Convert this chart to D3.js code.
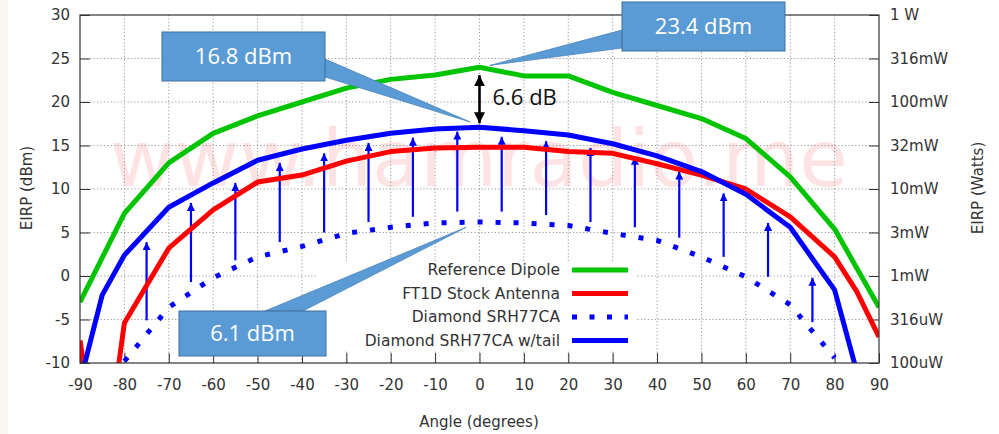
<!DOCTYPE html>
<html>
<head>
<meta charset="utf-8">
<script src="https://cdn.jsdelivr.net/npm/d3@7/dist/d3.min.js"></script>
<style>
  html, body { margin:0; padding:0; background:#fff; }
  svg { display:block; font-family:"DejaVu Sans", sans-serif; }
</style>
</head>
<body>
<svg id="chart" width="999" height="434"></svg>
<script>
// EIRP vs angle, four antennas.
const X_TICKS = d3.range(-90, 91, 10);
const Y_TICKS = d3.range(-10, 31, 5);
const WATT_LABELS = ["100uW","316uW","1mW","3mW","10mW","32mW","100mW","316mW","1 W"]; // -10..30 dBm

const DIPOLE_ANG = [-90,-80,-70,-60,-50,-40,-30,-20,-10,0,10,20,30,40,50,60,70,80,90];
const DIPOLE_VAL = [-3.0,7.2,13.0,16.4,18.4,20.0,21.6,22.6,23.1,24.0,23.0,23.0,21.1,19.6,18.1,15.8,11.4,5.4,-3.6];

const FT1D_ANG = [-90,-85,-80,-70,-60,-50,-40,-30,-20,-10,0,10,20,30,40,50,60,70,80,85,90];
const FT1D_VAL = [-7.4,-24,-5.4,3.2,7.6,10.8,11.6,13.2,14.3,14.7,14.8,14.8,14.3,14.1,12.9,11.6,10.0,6.8,2.2,-1.8,-7.0];

const SRH_ANG = [-80,-70,-60,-50,-40,-30,-20,-10,0,10,20,30,40,50,60,70,80];
const SRH_VAL = [-9.8,-3.6,-0.2,2.2,3.4,4.9,5.6,6.1,6.2,6.1,5.8,4.9,4.1,2.2,-0.1,-3.3,-9.4];

const TAIL_ANG = [-90,-85,-80,-70,-60,-50,-40,-30,-20,-10,0,10,20,30,40,50,60,70,80,85,90];
const TAIL_VAL = [-12.2,-2.2,2.4,7.9,10.7,13.3,14.6,15.6,16.4,16.9,17.1,16.7,16.2,15.2,13.8,12.0,9.4,5.6,-1.6,-11,-20];

// improvement arrows: dotted curve -> w/tail curve
const ARROW_AT   = [-75,-65,-55,-45,-35,-25,-15,-5,5,15,25,35,45,55,65,75];
const ARROW_FROM = [-5.1,-0.7,1.8,3.9,5.0,6.2,6.8,7.4,7.4,7.0,6.2,5.6,4.4,2.2,-0.1,-5.3];
const ARROW_TO   = [3.9,8.4,10.7,13.0,14.1,15.3,15.9,16.6,16.0,15.5,14.7,13.7,12.0,9.5,6.1,-0.2];

const SERIES = [
  {name:"Reference Dipole",        ang:DIPOLE_ANG, val:DIPOLE_VAL, color:"#00c400", dash:null},
  {name:"FT1D Stock Antenna",      ang:FT1D_ANG,   val:FT1D_VAL,   color:"#ff0000", dash:null},
  {name:"Diamond SRH77CA",         ang:SRH_ANG,    val:SRH_VAL,    color:"#0000ff", dash:"5 13"},
  {name:"Diamond SRH77CA w/tail",  ang:TAIL_ANG,   val:TAIL_VAL,   color:"#0000ff", dash:null}
];

// callouts: label, tip in data units [angle, dBm], box in px
const CALLOUTS = [
  {text:"16.8 dBm", tip:[-2.1, 17.7], box:[162, 32, 163, 49], base:[[325,59],[325,77]]},
  {text:"23.4 dBm", tip:[2.3, 24.2],  box:[622, 2, 163, 49],  base:[[622,30],[622,48]]},
  {text:"6.1 dBm",  tip:[-3.0, 5.6],  box:[179, 311, 147, 45], base:[[265,311],[303,311]]}
];
const GAP_LABEL = "6.6 dB";

const W = 999, H = 434;
const M = {left:80, right:120, top:15, bottom:71};
const svg = d3.select("#chart");

svg.append("rect").attr("width", W).attr("height", H).attr("fill", "#fff");
svg.append("rect").attr("width", 8).attr("height", H).attr("fill", "#f9f7ef");

const x = d3.scaleLinear().domain([-90, 90]).range([M.left, W - M.right]);
const y = d3.scaleLinear().domain([-10, 30]).range([H - M.bottom, M.top]);

const defs = svg.append("defs");
defs.append("clipPath").attr("id", "plot-clip").append("rect")
  .attr("x", M.left).attr("y", M.top)
  .attr("width", W - M.left - M.right).attr("height", H - M.top - M.bottom);
defs.append("marker").attr("id", "head-blue")
  .attr("viewBox", "0 0 10 10").attr("refX", 10).attr("refY", 5)
  .attr("markerWidth", 8).attr("markerHeight", 8).attr("markerUnits", "userSpaceOnUse")
  .attr("orient", "auto")
  .append("path").attr("d", "M0,0 L10,5 L0,10 z").attr("fill", "#0000ff");
defs.append("marker").attr("id", "head-black")
  .attr("viewBox", "0 0 10 10").attr("refX", 10).attr("refY", 5)
  .attr("markerWidth", 11).attr("markerHeight", 11).attr("markerUnits", "userSpaceOnUse")
  .attr("orient", "auto-start-reverse")
  .append("path").attr("d", "M0,0 L10,5 L0,10 z").attr("fill", "#000");

// watermark
svg.append("text").attr("x", 110).attr("y", 186)
  .attr("font-size", 79).attr("fill", "#fde3e3")
  .text("www.hamradio.me");

// grid
const grid = svg.append("g").attr("stroke", "#999").attr("stroke-width", 1)
  .attr("stroke-dasharray", "1.2 2.2");
grid.selectAll("line.v").data(X_TICKS.slice(1, -1)).join("line").attr("class", "v")
  .attr("x1", d => x(d)).attr("x2", d => x(d))
  .attr("y1", y(30)).attr("y2", y(-10));
grid.selectAll("line.h").data(Y_TICKS.slice(1, -1)).join("line").attr("class", "h")
  .attr("x1", x(-90)).attr("x2", x(90))
  .attr("y1", d => y(d)).attr("y2", d => y(d));

// axes (ticks inward, gnuplot style; plain hyphen minus)
const TK = 10;
const fmt = d => String(d);
const axL = svg.append("g").attr("transform", `translate(${M.left},0)`)
  .call(d3.axisLeft(y).tickValues(Y_TICKS).tickSize(-TK).tickPadding(10).tickFormat(fmt));
const axR = svg.append("g").attr("transform", `translate(${W - M.right},0)`)
  .call(d3.axisRight(y).tickValues(Y_TICKS).tickSize(-TK).tickPadding(11)
    .tickFormat((d, i) => WATT_LABELS[i]));
const axB = svg.append("g").attr("transform", `translate(0,${H - M.bottom})`)
  .call(d3.axisBottom(x).tickValues(X_TICKS).tickSize(-TK).tickPadding(16).tickFormat(fmt));
[axL, axR, axB].forEach(g => {
  g.attr("font-family", "DejaVu Sans");
  g.select(".domain").remove();
  g.selectAll(".tick line").attr("stroke", "#333");
  g.selectAll("text").attr("font-size", 15).attr("fill", "#333");
});

// legend box (opaque)
const legend = svg.append("g");
legend.append("rect").attr("x", 318).attr("y", 262).attr("width", 318).attr("height", 88)
  .attr("fill", "#fff");

// arrows
svg.append("g").selectAll("line").data(ARROW_AT).join("line")
  .attr("x1", d => x(d)).attr("x2", d => x(d))
  .attr("y1", (d, i) => y(ARROW_FROM[i])).attr("y2", (d, i) => y(ARROW_TO[i]))
  .attr("stroke", "#0000ff").attr("stroke-width", 2.2)
  .attr("marker-end", "url(#head-blue)");

// curves
const plot = svg.append("g").attr("clip-path", "url(#plot-clip)");
const line = d3.line().x(d => x(d[0])).y(d => y(d[1]));
SERIES.forEach(s => {
  plot.append("path")
    .attr("d", line(s.ang.map((a, i) => [a, s.val[i]])))
    .attr("fill", "none").attr("stroke", s.color)
    .attr("stroke-width", 5)
    .attr("stroke-linejoin", "round")
    .attr("stroke-dasharray", s.dash);
});

// legend entries
const rows = legend.selectAll("g.row").data(SERIES).join("g").attr("class", "row")
  .attr("transform", (d, i) => `translate(0,${270 + i * 23.5})`);
rows.append("text").attr("x", 560).attr("dy", "0.35em").attr("text-anchor", "end")
  .attr("font-size", 15.5).attr("fill", "#333").text(d => d.name);
rows.append("line").attr("x1", 572).attr("x2", 628)
  .attr("stroke", d => d.color).attr("stroke-width", 5)
  .attr("stroke-dasharray", d => d.dash ? "5 12.5" : null);

// border
svg.append("rect").attr("x", M.left).attr("y", M.top)
  .attr("width", W - M.left - M.right).attr("height", H - M.top - M.bottom)
  .attr("fill", "none").attr("stroke", "#333").attr("stroke-width", 1.2);

// axis titles
svg.append("text").attr("transform", "translate(32,188) rotate(-90)")
  .attr("text-anchor", "middle").attr("font-size", 15).attr("fill", "#333").text("EIRP (dBm)");
svg.append("text").attr("transform", "translate(983,188) rotate(-90)")
  .attr("text-anchor", "middle").attr("font-size", 15).attr("fill", "#333").text("EIRP (Watts)");
svg.append("text").attr("x", 479).attr("y", 427)
  .attr("text-anchor", "middle").attr("font-size", 15).attr("fill", "#333").text("Angle (degrees)");

// 6.6 dB gap arrow between dipole peak and w/tail peak
const peakD = d3.max(DIPOLE_VAL), peakT = d3.max(TAIL_VAL);
svg.append("line")
  .attr("x1", x(0)).attr("x2", x(0))
  .attr("y1", y(peakD) + 8).attr("y2", y(peakT) - 4)
  .attr("stroke", "#000").attr("stroke-width", 2.6)
  .attr("marker-start", "url(#head-black)").attr("marker-end", "url(#head-black)");
svg.append("text").attr("x", x(0) + 13).attr("y", (y(peakD) + y(peakT)) / 2 + 8)
  .attr("font-family", "'Open Sans', sans-serif").attr("font-size", 22)
  .attr("fill", "#111").text(GAP_LABEL);

// callouts
const co = svg.append("g");
CALLOUTS.forEach(c => {
  const [bx, by, bw, bh] = c.box;
  const tip = [x(c.tip[0]), y(c.tip[1])];
  co.append("path")
    .attr("d", `M${c.base[0][0]},${c.base[0][1]} L${tip[0]},${tip[1]} L${c.base[1][0]},${c.base[1][1]} Z`)
    .attr("fill", "#5b9bd5").attr("stroke", "#4a85bb").attr("stroke-width", 0.8);
  co.append("rect").attr("x", bx).attr("y", by).attr("width", bw).attr("height", bh)
    .attr("fill", "#5b9bd5").attr("stroke", "#41719c").attr("stroke-width", 1);
  co.append("text").attr("x", bx + bw / 2).attr("y", by + bh / 2).attr("dy", "0.36em")
    .attr("text-anchor", "middle").attr("font-family", "'Open Sans', sans-serif")
    .attr("font-size", 22).attr("fill", "#fff").text(c.text);
});
</script>
</body>
</html>
